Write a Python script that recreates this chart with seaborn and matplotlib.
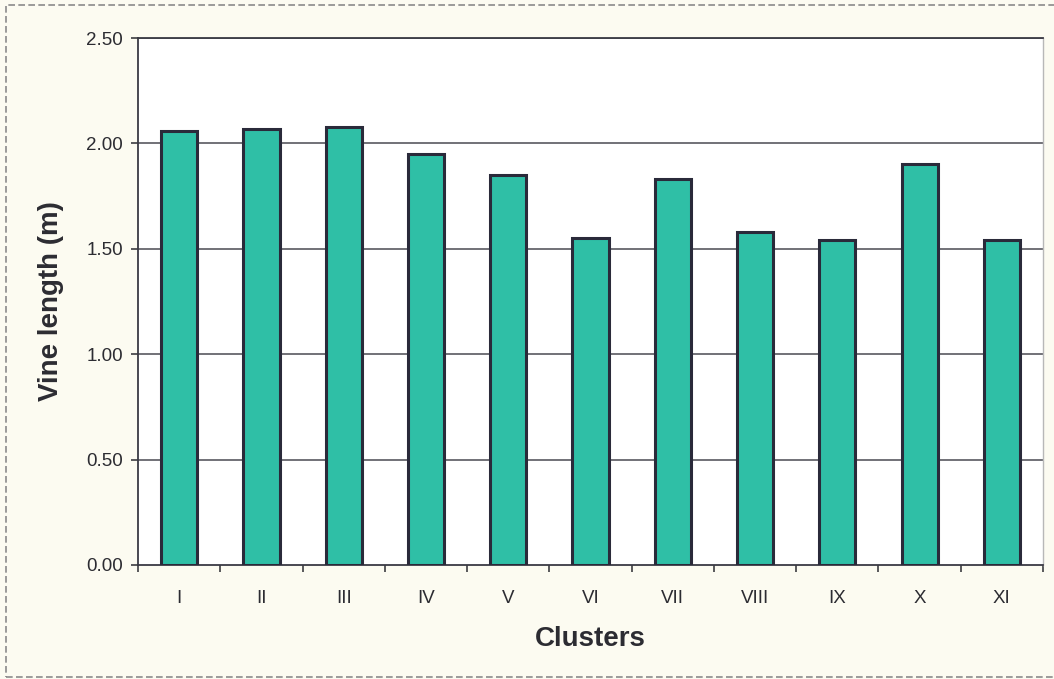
import matplotlib
matplotlib.use("Agg")
import matplotlib.pyplot as plt
import seaborn as sns
import pandas as pd
from matplotlib.patches import Rectangle

clusters = ["I", "II", "III", "IV", "V", "VI", "VII", "VIII", "IX", "X", "XI"]
vine_length = [2.06, 2.07, 2.08, 1.95, 1.85, 1.55, 1.83, 1.58, 1.54, 1.90, 1.54]
y_ticks = [0.0, 0.5, 1.0, 1.5, 2.0, 2.5]

df = pd.DataFrame({"Cluster": clusters, "Length": vine_length})

sns.set_theme(style="white")
plt.rcParams["font.family"] = ["Liberation Sans", "DejaVu Sans"]

bg = "#fcfbf1"
ink = "#2c2c32"

fig = plt.figure(figsize=(10.54, 6.79), dpi=100, facecolor=bg)
ax = fig.add_axes([0.131, 0.168, 0.8586, 0.776])
ax.set_facecolor("white")

sns.barplot(data=df, x="Cluster", y="Length", order=clusters, color="#2fbfa6",
            saturation=1, width=0.44, edgecolor="#2a2a3a", linewidth=2.2, ax=ax,
            zorder=3)

ax.set_ylim(0, 2.5)
ax.set_xlim(-0.5, len(clusters) - 0.5)
ax.set_yticks(y_ticks)
ax.set_yticklabels([f"{v:.2f}" for v in y_ticks])
for v in y_ticks[1:]:
    ax.axhline(v, color="#4a4a52", linewidth=1.1, zorder=1)

# x ticks sit between categories, labels in the middle
ax.set_xticks([i - 0.5 for i in range(len(clusters) + 1)], minor=False)
ax.set_xticklabels([""] * (len(clusters) + 1))
ax.set_xticks(range(len(clusters)), minor=True)
ax.set_xticklabels(clusters, minor=True)
ax.tick_params(axis="x", which="major", direction="out", length=5, width=1.1,
               color=ink, bottom=True)
ax.tick_params(axis="x", which="minor", length=0, pad=18, labelsize=13.5,
               labelcolor=ink, bottom=True)
ax.tick_params(axis="y", direction="out", length=5, width=1.1, color=ink,
               labelsize=13.5, labelcolor=ink, left=True, pad=6)

for side in ["left", "bottom", "top"]:
    ax.spines[side].set_color("#3a3a44")
    ax.spines[side].set_linewidth(1.3)
ax.spines["right"].set_color("#b8b8b8")
ax.spines["right"].set_linewidth(1.0)

ax.set_xlabel("Clusters", fontsize=20, fontweight="bold", color=ink, labelpad=14)
ax.set_ylabel("Vine length (m)", fontsize=20, fontweight="bold", color=ink, labelpad=16)

# dashed frame around the chart area
fig.patches.append(Rectangle((0.006, 0.003), 0.998, 0.989, transform=fig.transFigure,
                             fill=False, edgecolor="#8a8a8a", linewidth=1.2,
                             linestyle=(0, (4, 2))))

fig.savefig("out.png", dpi=100, facecolor=bg)
